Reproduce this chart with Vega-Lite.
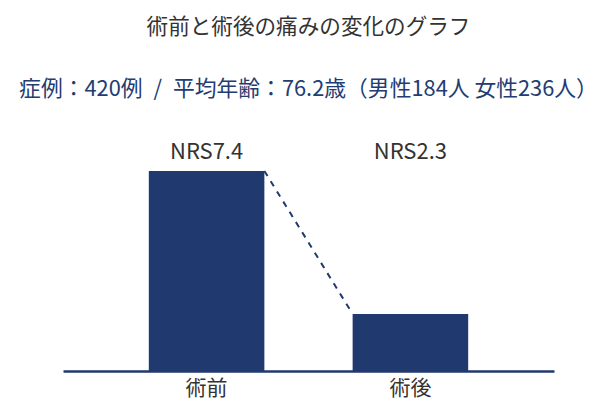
{
  "$schema": "https://vega.github.io/schema/vega-lite/v6.json",
  "autosize": {"type": "none"},
  "width": 491,
  "height": 240,
  "padding": {"left": 63, "top": 131, "right": 55, "bottom": 40},
  "background": "white",
  "config": {
    "view": {"stroke": null},
    "font": "Noto Sans CJK JP"
  },
  "title": {
    "text": "術前と術後の痛みの変化のグラフ",
    "subtitle": "症例：420例\u2002/\u2002平均年齢：76.2歳（男性184人 女性236人）",
    "anchor": "middle",
    "font": "Noto Sans CJK JP",
    "fontSize": 21.6,
    "fontWeight": "normal",
    "color": "#333333",
    "subtitleFont": "Noto Sans CJK JP",
    "subtitleFontSize": 21.8,
    "subtitleColor": "#233c72",
    "subtitlePadding": 41,
    "offset": 30
  },
  "data": {
    "values": [
      {"phase": "術前", "nrs": 7.4, "label": "NRS7.4"},
      {"phase": "術後", "nrs": 2.3, "label": "NRS2.3"}
    ]
  },
  "layer": [
    {
      "mark": {"type": "bar", "color": "#20396e"},
      "encoding": {
        "x": {
          "field": "phase",
          "type": "nominal",
          "sort": ["術前", "術後"],
          "scale": {"paddingInner": 0.433, "paddingOuter": 0.421},
          "axis": {
            "title": null,
            "labelAngle": 0,
            "labelFontSize": 21,
            "labelColor": "#333333",
            "labelFont": "Noto Sans CJK JP",
            "labelPadding": 6,
            "ticks": false,
            "domainColor": "#20396e",
            "domainWidth": 2.5,
            "zindex": 1
          }
        },
        "y": {
          "field": "nrs",
          "type": "quantitative",
          "scale": {"domain": [0.267, 8.826], "zero": false, "clamp": true, "nice": false},
          "axis": null
        }
      }
    },
    {
      "data": {"values": [{"from": "術前", "to": "術後", "v1": 7.4, "v2": 2.3}]},
      "mark": {"type": "rule", "color": "#20396e", "strokeWidth": 2, "strokeDash": [6, 6]},
      "encoding": {
        "x": {"field": "from", "type": "nominal", "bandPosition": 1},
        "x2": {"field": "to", "bandPosition": 0},
        "y": {"field": "v1", "type": "quantitative"},
        "y2": {"field": "v2"}
      }
    },
    {
      "mark": {"type": "text", "fontSize": 22, "color": "#333333", "baseline": "middle", "font": "Noto Sans CJK JP"},
      "encoding": {
        "x": {"field": "phase", "type": "nominal", "sort": ["術前", "術後"]},
        "y": {"datum": 8.08},
        "text": {"field": "label"}
      }
    }
  ]
}
